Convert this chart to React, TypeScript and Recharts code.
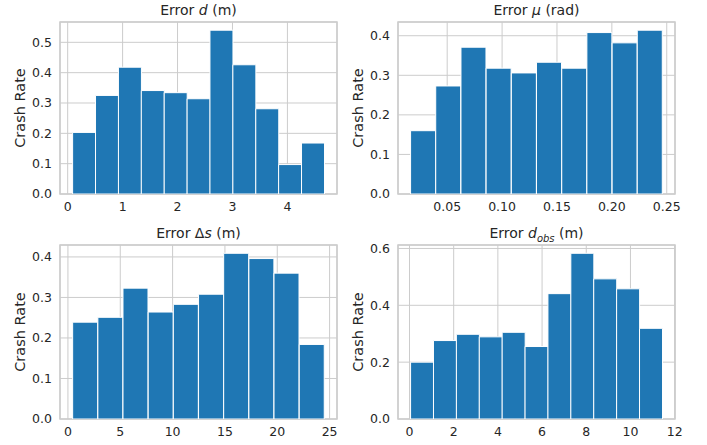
import React from 'react';
import { BarChart, Bar, XAxis, YAxis, CartesianGrid, ReferenceArea } from 'recharts';

// bin centres and crash rates
const dCenters = [0.298, 0.715, 1.132, 1.548, 1.965, 2.382, 2.798, 3.215, 3.632, 4.048, 4.465];
const dRates = [0.203, 0.325, 0.418, 0.341, 0.334, 0.314, 0.540, 0.426, 0.281, 0.097, 0.168];
const dTicks = [0, 1, 2, 3, 4];

const muCenters = [0.0281, 0.0510, 0.0740, 0.0969, 0.1199, 0.1428, 0.1658, 0.1887, 0.2117, 0.2346];
const muRates = [0.160, 0.273, 0.371, 0.318, 0.306, 0.333, 0.318, 0.408, 0.382, 0.414];
const muTicks = [0.05, 0.1, 0.15, 0.2, 0.25];

const sCenters = [1.65, 4.06, 6.46, 8.87, 11.27, 13.68, 16.08, 18.49, 20.89, 23.30];
const sRates = [0.239, 0.251, 0.323, 0.264, 0.283, 0.308, 0.409, 0.396, 0.360, 0.184];
const sTicks = [0, 5, 10, 15, 20, 25];

const obsCenters = [0.568, 1.604, 2.64, 3.676, 4.712, 5.748, 6.784, 7.82, 8.856, 9.892, 10.928];
const obsRates = [0.200, 0.276, 0.298, 0.289, 0.305, 0.255, 0.441, 0.583, 0.493, 0.458, 0.319];
const obsTicks = [0, 2, 4, 6, 8, 10, 12];

const rateTicksA = [0, 0.1, 0.2, 0.3, 0.4, 0.5];
const rateTicksB = [0, 0.1, 0.2, 0.3, 0.4];
const rateTicksC = [0, 0.2, 0.4, 0.6];

const TEXT = '#262626';
const GRID = '#cccccc';
const BLUE = '#1f77b4';
const FONT = '"DejaVu Sans", sans-serif';

type PanelProps = {
  left: number;
  top: number;
  height: number;
  plotTop: number;
  axisH: number;
  title: React.ReactNode;
  centers: number[];
  rates: number[];
  xTicks: number[];
  yTicks: number[];
  xFmt: (v: number) => string;
};

function Panel({ left, top, height, plotTop, axisH, title, centers, rates, xTicks, yTicks, xFmt }: PanelProps) {
  const data = centers.map((x, i) => ({ x, rate: rates[i] }));
  const w = centers[1] - centers[0];
  const lo = centers[0] - w / 2;
  const hi = centers[centers.length - 1] + w / 2;
  const pad = (hi - lo) * 0.05;
  const xDomain = [lo - pad, hi + pad];
  const yMax = Math.max(...rates) * 1.05;

  const W = 354;
  const plotLeft = 60;
  const plotRight = 337;

  return (
    <div style={{ position: 'absolute', left, top, width: W, height }}>
      <div
        style={{
          position: 'absolute',
          left: plotLeft,
          width: plotRight - plotLeft,
          top: plotTop - 19,
          textAlign: 'center',
          fontSize: 14,
          lineHeight: '14px',
          color: TEXT,
          fontFamily: FONT,
          whiteSpace: 'nowrap',
        }}
      >
        {title}
      </div>
      <BarChart
        width={W}
        height={height}
        data={data}
        barCategoryGap={0}
        margin={{ top: plotTop, right: W - plotRight, bottom: 0, left: 0 }}
      >
        <CartesianGrid stroke={GRID} strokeWidth={1} />
        <XAxis
          type="number"
          dataKey="x"
          domain={xDomain}
          allowDataOverflow
          ticks={xTicks}
          tickFormatter={xFmt}
          tickLine={false}
          axisLine={false}
          tickSize={0}
          tickMargin={8}
          height={axisH}
          tick={{ fontSize: 12.5, fill: TEXT, fontFamily: FONT }}
        />
        <YAxis
          type="number"
          domain={[0, yMax]}
          allowDataOverflow
          ticks={yTicks}
          tickFormatter={(v: number) => v.toFixed(1)}
          tickLine={false}
          axisLine={false}
          tickSize={0}
          tickMargin={8}
          width={plotLeft}
          tick={{ fontSize: 12.5, fill: TEXT, fontFamily: FONT }}
          label={{
            content: ({ viewBox }: any) => {
              const cy = viewBox.y + viewBox.height / 2;
              return (
                <text
                  x={20}
                  y={cy}
                  transform={`rotate(-90, 20, ${cy})`}
                  textAnchor="middle"
                  dominantBaseline="central"
                  fill={TEXT}
                  fontSize={14.5}
                  fontFamily={FONT}
                >
                  Crash Rate
                </text>
              );
            },
          }}
        />
        <Bar dataKey="rate" fill={BLUE} stroke="#ffffff" strokeWidth={1} isAnimationActive={false} />
        <ReferenceArea
          x1={xDomain[0]}
          x2={xDomain[1]}
          y1={0}
          y2={yMax}
          fill="none"
          stroke={GRID}
          strokeWidth={1.5}
          ifOverflow="visible"
        />
      </BarChart>
    </div>
  );
}

const intFmt = (v: number) => String(v);
const dec2Fmt = (v: number) => v.toFixed(2);

export default function App() {
  return (
    <div
      style={{
        position: 'absolute',
        left: 0,
        top: 0,
        width: 707,
        height: 445,
        background: '#ffffff',
        overflow: 'hidden',
      }}
    >
      <Panel
        left={0}
        top={0}
        height={222}
        plotTop={22}
        axisH={28}
        title={<span>Error <i>d</i> (m)</span>}
        centers={dCenters}
        rates={dRates}
        xTicks={dTicks}
        yTicks={rateTicksA}
        xFmt={intFmt}
      />
      <Panel
        left={338}
        top={0}
        height={222}
        plotTop={22}
        axisH={28}
        title={<span>Error <i>μ</i> (rad)</span>}
        centers={muCenters}
        rates={muRates}
        xTicks={muTicks}
        yTicks={rateTicksB}
        xFmt={dec2Fmt}
      />
      <Panel
        left={0}
        top={222}
        height={223}
        plotTop={23}
        axisH={26}
        title={<span>Error Δ<i>s</i> (m)</span>}
        centers={sCenters}
        rates={sRates}
        xTicks={sTicks}
        yTicks={rateTicksB}
        xFmt={intFmt}
      />
      <Panel
        left={338}
        top={222}
        height={223}
        plotTop={23}
        axisH={26}
        title={
          <span>
            Error <i>d</i>
            <sub style={{ fontSize: 10, fontStyle: 'italic', lineHeight: 0 }}>obs</sub> (m)
          </span>
        }
        centers={obsCenters}
        rates={obsRates}
        xTicks={obsTicks}
        yTicks={rateTicksC}
        xFmt={intFmt}
      />
    </div>
  );
}
